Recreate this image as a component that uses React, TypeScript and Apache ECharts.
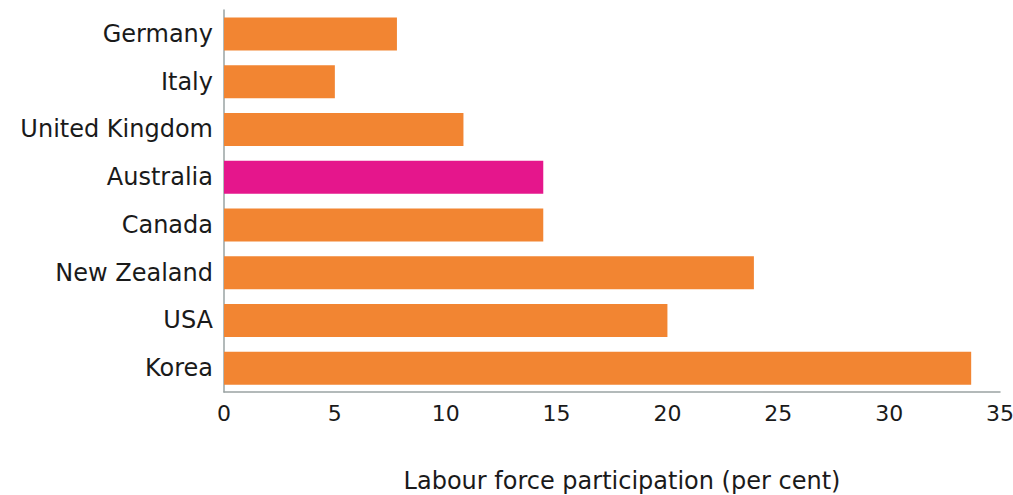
import React, { useEffect, useRef } from "react";
import * as echarts from "echarts";

const countries = ["Germany", "Italy", "United Kingdom", "Australia", "Canada", "New Zealand", "USA", "Korea"];
const participation = [7.8, 5.0, 10.8, 14.4, 14.4, 23.9, 20.0, 33.7];
const highlighted = "Australia";
const xTicks = { min: 0, max: 35, interval: 5 };
const axisTitle = "Labour force participation (per cent)";

const ORANGE = "#F28532";
const MAGENTA = "#E5168C";
const FONT = "DejaVu Sans";

export default function App() {
  const ref = useRef<HTMLDivElement>(null);
  useEffect(() => {
    if (!ref.current) return;
    const chart = echarts.init(ref.current, undefined, { renderer: "svg" });
    chart.setOption({
      animation: false,
      grid: { left: 224, right: 13, top: 10, bottom: 103, containLabel: false, outerBoundsMode: "none" },
      xAxis: {
        type: "value",
        min: xTicks.min,
        max: xTicks.max,
        interval: xTicks.interval,
        splitLine: { show: false },
        axisLine: { show: true, lineStyle: { color: "#9aa3a3", width: 1.5 } },
        axisTick: { show: false },
        axisLabel: { color: "#1a1a1a", fontSize: 22, fontFamily: FONT, margin: 10 },
        name: axisTitle,
        nameLocation: "middle",
        nameGap: 77,
        nameTextStyle: { color: "#1a1a1a", fontSize: 24, lineHeight: 24, fontFamily: FONT, padding: [0, 0, 0, 20] },
      },
      yAxis: {
        type: "category",
        data: countries,
        inverse: true,
        axisLine: { show: true, lineStyle: { color: "#9aa3a3", width: 1.5 } },
        axisTick: { show: false },
        axisLabel: { color: "#1a1a1a", fontSize: 24, fontFamily: FONT, margin: 11 },
      },
      series: [
        {
          type: "bar",
          barWidth: 33,
          data: countries.map((c, i) => ({
            value: participation[i],
            itemStyle: { color: c === highlighted ? MAGENTA : ORANGE },
          })),
        },
      ],
    });
    return () => chart.dispose();
  }, []);
  return (
    <div
      ref={ref}
      style={{ position: "fixed", left: 0, top: 0, width: 1013, height: 495, background: "#fff" }}
    />
  );
}
